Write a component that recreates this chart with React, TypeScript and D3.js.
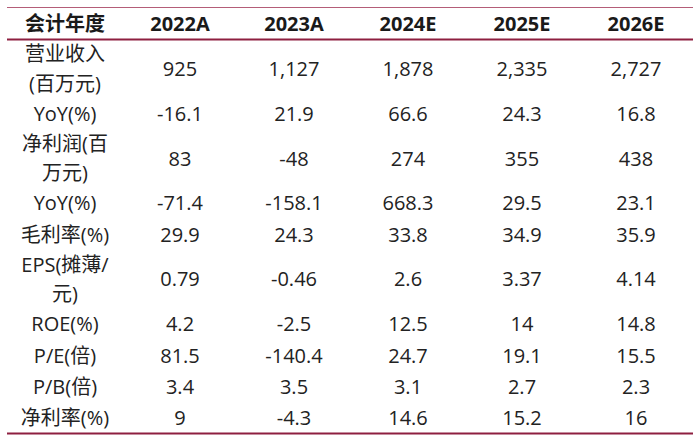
import React from "react";
import * as d3 from "d3";

const headerLabel = "会计年度";
const years = ["2022A", "2023A", "2024E", "2025E", "2026E"];
const rowLabels: string[][] = [
  ["营业收入", "(百万元)"],
  ["YoY(%)"],
  ["净利润(百", "万元)"],
  ["YoY(%)"],
  ["毛利率(%)"],
  ["EPS(摊薄/", "元)"],
  ["ROE(%)"],
  ["P/E(倍)"],
  ["P/B(倍)"],
  ["净利率(%)"],
];
const revenue = ["925", "1,127", "1,878", "2,335", "2,727"];
const revenueYoY = ["-16.1", "21.9", "66.6", "24.3", "16.8"];
const netProfit = ["83", "-48", "274", "355", "438"];
const netProfitYoY = ["-71.4", "-158.1", "668.3", "29.5", "23.1"];
const grossMargin = ["29.9", "24.3", "33.8", "34.9", "35.9"];
const eps = ["0.79", "-0.46", "2.6", "3.37", "4.14"];
const roe = ["4.2", "-2.5", "12.5", "14", "14.8"];
const pe = ["81.5", "-140.4", "24.7", "19.1", "15.5"];
const pb = ["3.4", "3.5", "3.1", "2.7", "2.3"];
const netMargin = ["9", "-4.3", "14.6", "15.2", "16"];

const rowValues = [revenue, revenueYoY, netProfit, netProfitYoY, grossMargin, eps, roe, pe, pb, netMargin];

export default function App() {
  const W = 700;
  const H = 442;
  const left = 7;
  const right = 693;
  const topLine = 7.5;
  const headerLine = 39.5;
  const bottomLine = 433.5;

  const xYear = d3.scalePoint<string>().domain(years).range([180, 636]);
  const labelX = 65;

  // row heights derived from line count
  const singleH = 31;
  const doubleH = 57.5;
  const heights = rowLabels.map((l) => (l.length > 1 ? doubleH : singleH));
  const total = d3.sum(heights);
  const scale = (bottomLine - headerLine) / total;
  const starts: number[] = [];
  let acc = headerLine;
  heights.forEach((h) => {
    starts.push(acc);
    acc += h * scale;
  });
  const centers = starts.map((s, i) => s + (heights[i] * scale) / 2);

  const font = "'Open Sans', 'Noto Sans CJK SC', sans-serif";
  const lineColor = "#8e1f40";

  return (
    <svg
      width={W}
      height={H}
      style={{ position: "absolute", left: 0, top: 0, background: "#fff" }}
      fontFamily={font}
    >
      <rect x={0} y={0} width={W} height={H} fill="#fff" />
      <line x1={left} x2={right} y1={topLine} y2={topLine} stroke="#b45d78" strokeWidth={1.2} />
      <line x1={left} x2={right} y1={headerLine} y2={headerLine} stroke={lineColor} strokeWidth={2.2} />
      <line x1={left} x2={right} y1={bottomLine} y2={bottomLine} stroke={lineColor} strokeWidth={2} />

      <text x={labelX} y={23} textAnchor="middle" dominantBaseline="central" fontSize={20} fontWeight="bold" fill="#1a1a1a">
        {headerLabel}
      </text>
      {years.map((y) => (
        <text key={y} x={xYear(y)} y={23} textAnchor="middle" dominantBaseline="central" fontSize={20} fontWeight="bold" fill="#1a1a1a">
          {y}
        </text>
      ))}

      {rowLabels.map((lines, i) => (
        <g key={i}>
          {lines.map((t, j) => (
            <text
              key={j}
              x={labelX}
              y={centers[i] + (j - (lines.length - 1) / 2) * 29.5}
              textAnchor="middle"
              dominantBaseline="central"
              fontSize={20}
              fill="#222"
            >
              {t}
            </text>
          ))}
          {rowValues[i].map((v, k) => (
            <text
              key={k}
              x={xYear(years[k])}
              y={centers[i]}
              textAnchor="middle"
              dominantBaseline="central"
              fontSize={20}
              fill="#222"
            >
              {v}
            </text>
          ))}
        </g>
      ))}
    </svg>
  );
}
